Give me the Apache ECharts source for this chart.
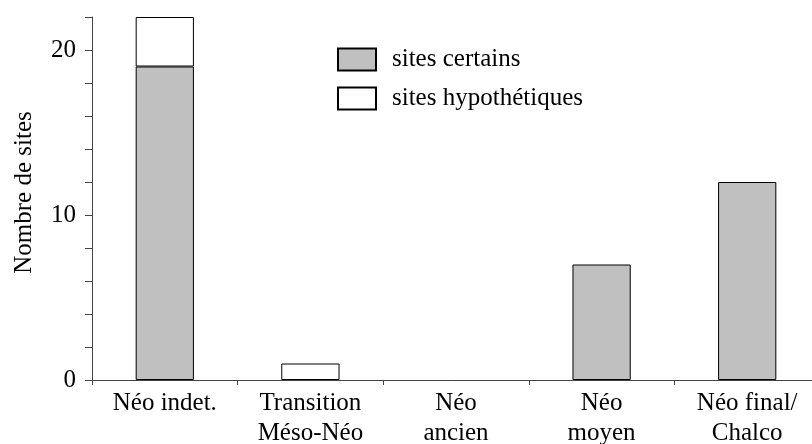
<!DOCTYPE html>
<html>
<head>
<meta charset="utf-8">
<script src="https://cdn.jsdelivr.net/npm/echarts@6/dist/echarts.min.js"></script>
<style>
  html, body { margin: 0; padding: 0; background: #fff; }
  #chart { width: 812px; height: 444px; }
</style>
</head>
<body>
<div id="chart"></div>
<script>
// Periods (x categories)
const categories = ['Néo indet.', 'Transition\nMéso-Néo', 'Néo\nancien', 'Néo\nmoyen', 'Néo final/\nChalco'];
// Number of sites per period
const sitesCertains = [19, null, null, 7, 12];
const sitesHypothetiques = [3, 1, null, null, null];
// Y values that carry a printed label
const yLabelValues = [0, 10, 20];

const FONT = '"Liberation Serif", "Times New Roman", serif';
const AXIS_COLOR = '#444';
const FS = 25;

const chart = echarts.init(document.getElementById('chart'), null, { renderer: 'canvas' });
chart.setOption({
  animation: false,
  backgroundColor: '#fff',
  textStyle: { fontFamily: FONT, color: '#000' },
  grid: {
    left: 92, top: 17, width: 728, height: 363,
    containLabel: false, outerBoundsMode: 'none'
  },
  legend: {
    orient: 'vertical',
    left: 337,
    top: 47,
    padding: 0,
    itemWidth: 38,
    itemHeight: 22,
    itemGap: 14,
    textStyle: { fontFamily: FONT, fontSize: FS, lineHeight: 25, color: '#000', padding: [0, 0, 0, 11] },
    data: [
      { name: 'sites certains', icon: 'rect' },
      { name: 'sites hypothétiques', icon: 'rect' }
    ]
  },
  xAxis: {
    type: 'category',
    data: categories,
    boundaryGap: true,
    axisLine: { lineStyle: { color: AXIS_COLOR, width: 1 } },
    axisTick: { show: true, length: 5, inside: false, lineStyle: { color: AXIS_COLOR } },
    axisLabel: {
      fontFamily: FONT, fontSize: FS, color: '#000',
      lineHeight: 30, margin: 8, interval: 0
    },
    splitLine: { show: false }
  },
  yAxis: {
    type: 'value',
    min: 0,
    max: 22,
    interval: 2,
    name: 'Nombre de sites',
    nameLocation: 'middle',
    nameGap: 55,
    nameRotate: 90,
    nameTextStyle: { fontFamily: FONT, fontSize: FS, color: '#000', padding: [0, 0, 0, 12] },
    axisLine: { show: true, lineStyle: { color: AXIS_COLOR, width: 1 } },
    axisTick: { show: true, length: 7, inside: false, lineStyle: { color: AXIS_COLOR } },
    axisLabel: {
      fontFamily: FONT, fontSize: FS, color: '#000', margin: 16,
      padding: [6, 0, 0, 0],
      formatter: v => (yLabelValues.indexOf(v) >= 0 ? String(v) : '')
    },
    splitLine: { show: false }
  },
  series: [
    {
      name: 'sites certains',
      type: 'bar',
      stack: 'sites',
      barWidth: '40%',
      data: sitesCertains,
      itemStyle: { color: '#c0c0c0', borderColor: '#000', borderWidth: 1 }
    },
    {
      name: 'sites hypothétiques',
      type: 'bar',
      stack: 'sites',
      barWidth: '40%',
      data: sitesHypothetiques,
      itemStyle: { color: '#fff', borderColor: '#000', borderWidth: 1 }
    }
  ]
});
</script>
</body>
</html>
